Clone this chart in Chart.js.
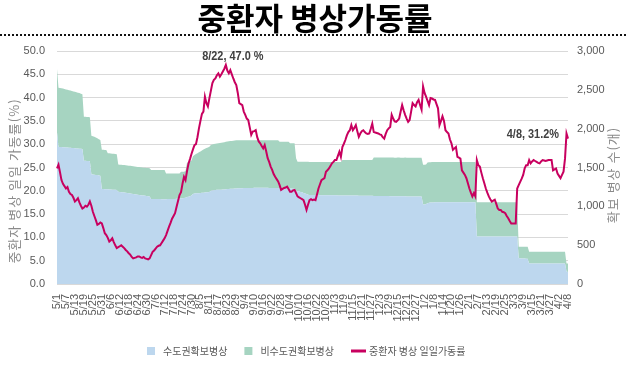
<!DOCTYPE html>
<html lang="ko">
<head>
<meta charset="utf-8">
<title>중환자 병상가동률</title>
<script src="https://cdn.jsdelivr.net/npm/chart.js@4.4.1/dist/chart.umd.min.js"></script>
<style>
  html, body { margin: 0; padding: 0; background: #fff; }
  #wrap { width: 627px; height: 375px; }
</style>
</head>
<body>
<div id="wrap"><canvas id="icuChart"></canvas></div>
<script>
// daily, 2020-05-01 .. 2021-04-08
const dayCount = 343;
const tickEvery = 6;

// 수도권 확보병상 (beds, right axis)
const capitalBeds = [
  1953,1765,1765,1763,1762,1760,1758,1757,1755,1753,
  1752,1750,1748,1746,1744,1742,1740,1737,1586,1586,
  1584,1583,1582,1412,1410,1408,1405,1402,1398,1395,
  1223,1222,1221,1220,1219,1218,1216,1215,1213,1212,
  1210,1188,1185,1182,1180,1177,1174,1171,1168,1165,
  1162,1159,1156,1153,1150,1147,1144,1141,1138,1135,
  1132,1130,1127,1095,1095,1094,1094,1093,1093,1093,
  1092,1092,1092,1092,1093,1093,1094,1094,1095,1096,
  1098,1100,1102,1104,1104,1106,1110,1120,1125,1130,
  1140,1160,1165,1168,1170,1170,1172,1174,1176,1178,
  1180,1182,1185,1200,1205,1208,1210,1212,1212,1214,
  1215,1216,1218,1220,1222,1224,1225,1226,1228,1229,
  1230,1232,1233,1234,1234,1235,1235,1236,1236,1237,
  1237,1237,1238,1238,1238,1238,1238,1238,1238,1238,
  1238,1238,1237,1237,1237,1236,1236,1235,1235,1234,
  1233,1233,1232,1232,1231,1230,1230,1229,1228,1227,
  1200,1195,1190,1185,1180,1172,1165,1158,1150,1146,
  1146,1146,1145,1145,1145,1145,1144,1144,1144,1144,
  1143,1143,1143,1143,1142,1142,1142,1142,1141,1141,
  1141,1140,1140,1140,1140,1139,1139,1139,1138,1138,
  1138,1138,1137,1137,1137,1136,1136,1136,1136,1135,
  1135,1135,1134,1134,1134,1134,1133,1133,1133,1132,
  1132,1132,1132,1131,1131,1131,1130,1130,1130,1130,
  1129,1129,1129,1129,1128,1128,1128,1128,1127,1127,
  1127,1127,1127,1127,1127,1025,1025,1030,1040,1045,
  1048,1050,1050,1051,1051,1052,1052,1052,1052,1052,
  1052,1053,1053,1053,1053,1053,1053,1053,1053,1053,
  1053,1053,1053,1053,1053,1053,1053,1053,1053,1053,
  1053,610,610,610,610,610,610,610,610,610,
  610,610,610,610,610,610,610,610,610,610,
  610,610,610,610,610,610,610,610,610,335,
  330,329,328,327,326,325,263,263,263,263,
  263,263,263,263,263,263,263,263,263,263,
  263,263,263,263,263,263,263,263,263,263,
  263,160,155
];

// 비수도권 확보병상 (beds, stacked on top of 수도권)
const otherBeds = [
  815,762,760,757,754,750,747,744,740,737,
  734,730,727,724,720,716,711,706,568,567,
  566,566,565,497,492,487,480,474,467,460,
  505,505,505,505,465,464,464,463,463,462,
  462,352,352,353,353,354,354,355,355,356,
  356,357,357,358,358,359,359,360,360,361,
  361,362,363,373,373,374,374,375,375,375,
  376,376,376,330,330,329,329,328,327,326,
  325,324,322,342,342,340,345,440,445,448,
  450,485,495,505,515,525,535,545,555,562,
  570,577,583,590,592,594,596,598,600,602,
  604,606,608,610,612,614,615,616,618,620,
  621,618,618,617,617,616,616,615,615,614,
  614,614,613,613,613,613,613,613,613,613,
  613,614,614,614,615,615,616,616,617,597,
  597,598,598,598,599,600,582,582,583,585,
  420,380,385,390,395,403,410,417,425,424,
  424,424,425,425,425,425,426,426,426,426,
  427,427,427,427,428,428,428,428,429,429,
  429,457,457,457,457,458,458,458,458,459,
  459,459,459,460,460,460,460,461,461,461,
  461,462,494,494,495,495,495,495,496,496,
  496,496,496,497,497,497,497,497,498,498,
  498,498,498,499,499,499,499,499,500,500,
  500,500,500,500,500,512,512,510,525,522,
  521,520,520,519,519,518,518,518,518,518,
  518,517,517,517,517,517,517,517,517,517,
  517,517,517,517,517,517,517,517,517,517,
  517,442,442,442,442,442,442,442,442,442,
  442,442,442,442,442,442,442,442,442,442,
  442,442,442,442,442,442,442,442,442,145,
  150,151,152,153,154,155,151,151,151,151,
  151,151,151,151,151,151,151,151,151,151,
  151,151,151,151,151,151,151,151,151,151,
  151,103,108
];

// 중환자 병상 일일가동률 (%, left axis)
const icuRate = [
  24.8,25.6,24.0,22.3,21.5,21.0,20.5,20.8,19.8,19.3,
  19.1,18.5,17.7,18.0,18.4,17.5,16.8,16.2,16.4,16.8,
  16.6,17.0,17.7,16.8,15.5,14.6,13.7,12.7,12.9,13.2,
  13.0,12.0,10.9,10.5,9.9,9.1,9.4,9.8,9.0,8.3,
  7.7,7.9,8.1,8.3,8.0,7.7,7.3,7.0,6.6,6.3,
  5.8,5.5,5.6,5.7,5.9,5.9,5.7,5.6,5.8,5.5,
  5.4,5.3,5.5,6.2,6.9,7.2,7.6,8.0,8.2,8.3,
  8.8,9.3,9.8,10.5,11.4,12.3,13.1,14.0,14.6,15.2,
  16.5,17.8,19.1,19.7,21.5,23.0,22.3,24.2,25.8,26.8,
  27.9,28.9,29.8,30.0,31.5,33.4,35.0,36.5,37.0,40.2,
  38.8,38.1,39.9,41.5,43.1,43.8,44.1,44.8,45.2,44.5,
  45.0,45.6,46.2,47.0,45.8,45.2,45.9,45.0,44.1,43.3,
  42.7,41.0,38.8,38.6,38.4,37.0,36.3,35.5,35.2,33.6,
  32.0,32.7,32.8,33.0,31.5,30.6,30.2,29.6,29.1,29.8,
  28.5,27.0,26.2,25.2,24.5,23.6,23.0,22.5,22.0,21.2,
  20.2,20.4,20.6,20.7,20.9,20.4,19.8,19.8,20.1,20.2,
  19.5,18.8,18.6,18.4,18.2,18.0,17.0,15.9,17.0,18.0,
  18.2,18.0,18.1,18.0,19.2,20.5,21.4,22.3,22.5,22.7,
  24.1,24.4,24.8,25.3,25.9,26.2,26.6,26.6,27.5,28.4,
  27.3,29.4,30.1,30.9,31.9,32.6,33.0,34.1,33.0,33.5,
  34.1,32.8,31.6,32.3,32.8,33.0,32.6,32.3,32.2,32.3,
  33.3,34.4,32.6,32.5,32.4,32.3,32.1,32.0,31.5,31.2,
  32.2,33.0,33.4,33.7,36.3,35.5,34.9,34.8,35.1,35.5,
  37.0,38.4,37.3,36.3,35.5,34.8,35.2,37.0,38.8,38.4,
  38.1,39.0,39.5,38.4,37.4,42.4,41.0,40.2,39.3,38.4,
  39.9,39.8,39.6,39.5,38.6,37.7,34.1,35.0,36.0,35.0,
  33.0,32.6,32.3,31.0,30.2,28.8,29.1,29.4,27.3,27.1,
  26.9,24.4,23.9,23.4,22.7,21.6,20.5,19.6,18.8,19.5,
  18.8,26.6,25.5,25.2,23.9,22.7,21.6,20.5,19.6,18.8,
  18.2,17.7,17.9,18.1,17.2,16.2,15.9,15.9,15.5,15.4,
  15.2,14.6,14.1,13.5,13.0,13.0,13.0,13.0,20.5,21.2,
  21.9,22.6,23.4,24.8,25.5,25.5,26.6,25.9,26.3,26.6,
  26.4,26.2,26.0,25.9,26.3,26.6,26.5,26.4,26.5,26.6,
  26.6,26.6,24.4,24.6,24.8,23.7,23.2,22.7,23.4,24.1,
  26.9,32.3,31.2
];

const seriesNames = ['수도권확보병상', '비수도권확보병상', '중환자 병상 일일가동률'];
const titleText = '중환자 병상가동률';
const leftTitle = '중환자 병상 일일 가동률(%)';
const rightTitle = '확보 병상 수(개)';

// M/D category labels
const days = [];
for (let i = 0; i < dayCount; i++) {
  const d = new Date(Date.UTC(2020, 4, 1 + i));
  days.push((d.getUTCMonth() + 1) + '/' + d.getUTCDate());
}

const BLUE = '#bdd7ee';
const GREEN = '#a6d4c1';
const PINK = '#c8005f';
const GREY = '#595959';
const KR = "'Noto Sans CJK KR', 'Noto Sans', sans-serif";
const NARROW = "'Liberation Sans Narrow', 'Liberation Sans', sans-serif";

// squeezed bold text, the call-outs in the original are a condensed face
function narrowText(ctx, text, x, y, align) {
  const sx = 0.84;
  ctx.save();
  ctx.translate(x, y);
  ctx.scale(sx, 1);
  ctx.textAlign = align;
  ctx.fillText(text, 0, 0);
  ctx.restore();
}

const decor = {
  id: 'decor',
  afterDraw(chart) {
    const { ctx, scales } = chart;
    ctx.save();

    // title + dotted rule
    ctx.fillStyle = '#000';
    ctx.font = 'bold 31px ' + KR;
    ctx.textAlign = 'center';
    ctx.textBaseline = 'middle';
    ctx.fillText(titleText, 315, 18);
    ctx.strokeStyle = '#111';
    ctx.lineWidth = 2;
    ctx.setLineDash([2, 2]);
    ctx.beginPath();
    ctx.moveTo(0, 35);
    ctx.lineTo(chart.width, 35);
    ctx.stroke();
    ctx.setLineDash([]);

    // axis titles, both read bottom to top
    ctx.fillStyle = '#8a8a8a';
    ctx.font = '13px ' + KR;
    ctx.letterSpacing = '1px';
    [[leftTitle, 14, 181], [rightTitle, 613, 175]].forEach(([t, x, y]) => {
      ctx.save();
      ctx.translate(x, y);
      ctx.rotate(-Math.PI / 2);
      ctx.fillText(t, 0, 0);
      ctx.restore();
    });
    ctx.letterSpacing = '0px';

    // value call-outs
    ctx.fillStyle = '#404040';
    ctx.font = 'bold 13px ' + NARROW;
    const peak = icuRate.indexOf(Math.max(...icuRate));
    const last = icuRate.length - 1;
    narrowText(ctx, days[peak] + ', ' + icuRate[peak].toFixed(1) + ' %',
      scales.x.getPixelForValue(peak) + 7, scales.y.getPixelForValue(icuRate[peak]) - 9, 'center');
    narrowText(ctx, days[last] + ', ' + icuRate[last].toFixed(1) + '%',
      scales.x.getPixelForValue(last) - 9, scales.y.getPixelForValue(icuRate[last]) - 4, 'right');

    // legend
    ctx.font = '10px ' + KR;
    ctx.textAlign = 'left';
    const ly = 351;
    let x = 147;
    const marks = [BLUE, GREEN, PINK];
    seriesNames.forEach((name, i) => {
      if (i < 2) {
        ctx.fillStyle = marks[i];
        ctx.fillRect(x, ly - 4, 8, 8);
        x += 16;
      } else {
        ctx.strokeStyle = marks[i];
        ctx.lineWidth = 3;
        ctx.beginPath();
        ctx.moveTo(x, ly);
        ctx.lineTo(x + 15, ly);
        ctx.stroke();
        x += 18;
      }
      ctx.fillStyle = GREY;
      ctx.fillText(name, x, ly);
      x += ctx.measureText(name).width + 17;
    });

    ctx.restore();
  }
};

new Chart(document.getElementById('icuChart'), {
  type: 'line',
  data: {
    labels: days,
    datasets: [
      {
        label: seriesNames[2],
        data: icuRate,
        yAxisID: 'y',
        borderColor: PINK,
        borderWidth: 2,
        pointRadius: 0,
        fill: false
      },
      {
        label: seriesNames[0],
        data: capitalBeds,
        yAxisID: 'y1',
        backgroundColor: BLUE,
        borderWidth: 0,
        pointRadius: 0,
        fill: 'origin'
      },
      {
        label: seriesNames[1],
        data: otherBeds,
        yAxisID: 'y1',
        backgroundColor: GREEN,
        borderWidth: 0,
        pointRadius: 0,
        fill: '-1'
      }
    ]
  },
  options: {
    responsive: true,
    maintainAspectRatio: false,
    animation: false,
    layout: { padding: { top: 51, left: 0, right: 0, bottom: 0 } },
    plugins: {
      legend: { display: false },
      title: { display: false },
      tooltip: { enabled: false }
    },
    scales: {
      x: {
        grid: { display: false, drawTicks: false },
        border: { display: false },
        ticks: {
          autoSkip: false,
          minRotation: 90,
          maxRotation: 90,
          padding: 10,
          color: GREY,
          font: { family: NARROW, size: 11 },
          callback: (v, i) => (i % tickEvery === 0 ? days[i] : null)
        },
        afterFit: s => { s.height = 91; }
      },
      y: {
        position: 'left',
        min: 0,
        max: 50,
        grid: { color: '#d9d9d9', drawTicks: false },
        border: { display: false },
        ticks: {
          stepSize: 5,
          padding: 12,
          color: GREY,
          font: { family: NARROW, size: 11 },
          callback: v => v.toFixed(1)
        },
        afterFit: s => { s.width = 57; }
      },
      y1: {
        position: 'right',
        min: 0,
        max: 3000,
        stacked: true,
        grid: { display: false, drawTicks: false },
        border: { display: false },
        ticks: {
          stepSize: 500,
          padding: 9,
          color: GREY,
          font: { family: NARROW, size: 11 },
          callback: v => v.toLocaleString('en-US')
        },
        afterFit: s => { s.width = 59; }
      }
    }
  },
  plugins: [decor]
});
</script>
</body>
</html>
